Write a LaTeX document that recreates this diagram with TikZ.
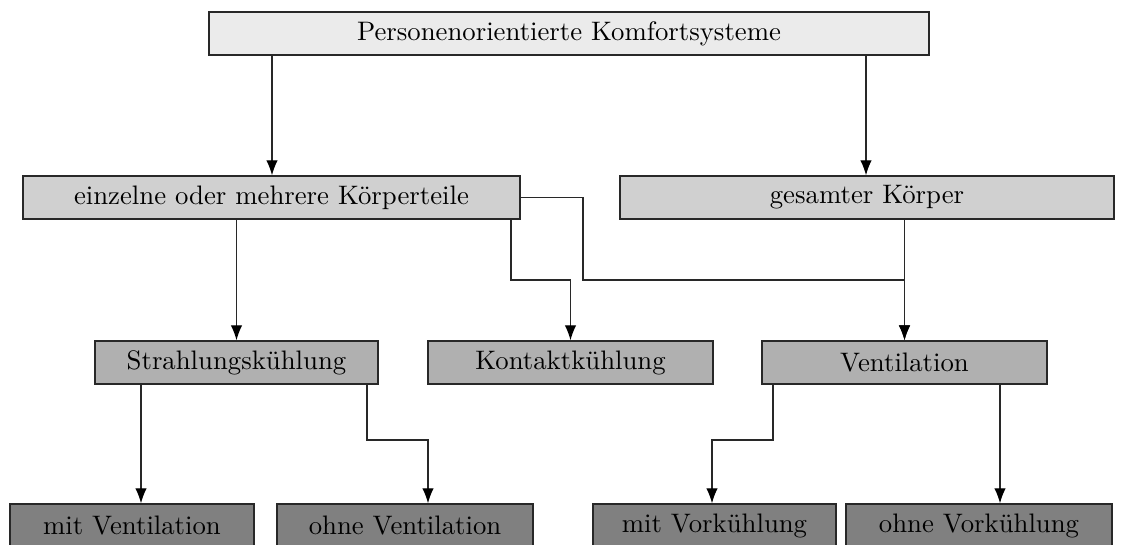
\documentclass[tikz,border=0pt]{standalone}
\usetikzlibrary{arrows.meta}
\definecolor{fillA}{RGB}{235,235,235}
\definecolor{fillB}{RGB}{208,208,208}
\definecolor{fillC}{RGB}{176,176,176}
\definecolor{fillD}{RGB}{128,128,128}
\definecolor{edgecol}{RGB}{40,40,40}
\tikzset{
  box/.style={draw=edgecol, line width=0.55pt, minimum height=17.2pt, inner sep=0pt,
    font=\fontsize{10.7}{12.8}\selectfont},
  lvA/.style={box, fill=fillA},
  lvB/.style={box, fill=fillB},
  lvC/.style={box, fill=fillC},
  lvD/.style={box, fill=fillD},
  link/.style={draw=edgecol, line width=0.5pt, -{Latex[length=6pt,width=4.6pt,black]}},
}
\begin{document}
\begin{tikzpicture}[x=0.4pt,y=-0.4pt]
\useasboundingbox (0,0) rectangle (1124,545);
\clip (0,0) rectangle (1124,545);

% level 1
\node[lvA, minimum width=288pt] (top) at (569,33.5) {Personenorientierte Komfortsysteme};
% level 2
\node[lvB, minimum width=198.8pt] (teile) at (271.5,197.5) {einzelne oder mehrere Körperteile};
\node[lvB, minimum width=197.6pt] (ganz) at (867,197.5) {gesamter Körper};
% level 3
\node[lvC, minimum width=113.2pt] (strahl) at (236.5,362.5) {Strahlungskühlung};
\node[lvC, minimum width=114pt] (kontakt) at (570.5,362.5) {Kontaktkühlung};
\node[lvC, minimum width=114pt] (vent) at (904.5,362.5) {Ventilation};
% level 4
\node[lvD, minimum width=97.6pt] (mitV) at (132,525.5) {mit Ventilation};
\node[lvD, minimum width=102.4pt] (ohneV) at (405,525.5) {ohne Ventilation};
\node[lvD, minimum width=97.2pt] (mitVk) at (714.5,525.5) {mit Vorkühlung};
\node[lvD, minimum width=106.4pt] (ohneVk) at (979,525.5) {ohne Vorkühlung};

% level 1 -> level 2
\draw[link] (top.south -| 272,0) -- (teile.north -| 272,0);
\draw[link] (top.south -| 866,0) -- (ganz.north -| 866,0);

% level 2 -> level 3
\draw[link] (teile.south -| strahl.north) -- (strahl.north);
\draw[link] (teile.south -| 511,0) |- (540,280) -| (kontakt.north);
\draw[link] (teile.east) -| (583,280) -| (vent.north);
\draw[link] (ganz.south -| vent.north) -- (vent.north);

% level 3 -> level 4
\draw[link] (strahl.south -| 141,0) -- (mitV.north -| 141,0);
\draw[link] (strahl.south -| 367,0) |- (400,440) -| (ohneV.north -| 428,0);
\draw[link] (vent.south -| 773,0) |- (740,440) -| (mitVk.north -| 712,0);
\draw[link] (vent.south -| 1000,0) -- (ohneVk.north -| 1000,0);
\end{tikzpicture}
\end{document}
